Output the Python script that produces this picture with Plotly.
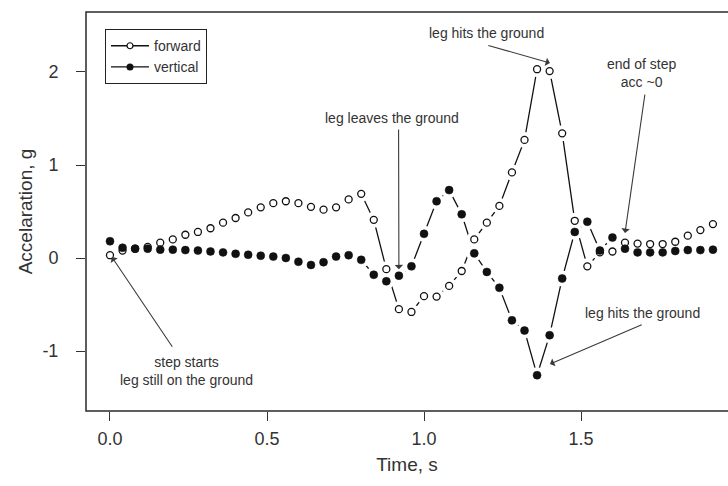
import plotly.graph_objects as go

# Time samples (s)
time_s = [0.00, 0.04, 0.08, 0.12, 0.16, 0.20, 0.24, 0.28, 0.32, 0.36,
          0.40, 0.44, 0.48, 0.52, 0.56, 0.60, 0.64, 0.68, 0.72, 0.76,
          0.80, 0.84, 0.88, 0.92, 0.96, 1.00, 1.04, 1.08, 1.12, 1.16,
          1.20, 1.24, 1.28, 1.32, 1.36, 1.40, 1.44, 1.48, 1.52, 1.56,
          1.60, 1.64, 1.68, 1.72, 1.76, 1.80, 1.84, 1.88, 1.92]

# Forward acceleration (g)
forward = [0.03, 0.08, 0.10, 0.12, 0.165, 0.20, 0.25, 0.28, 0.32, 0.38,
           0.43, 0.49, 0.545, 0.59, 0.61, 0.59, 0.55, 0.52, 0.545, 0.63,
           0.69, 0.41, -0.12, -0.55, -0.58, -0.41, -0.415, -0.30, -0.14, 0.20,
           0.38, 0.56, 0.92, 1.27, 2.03, 2.01, 1.34, 0.40, -0.09, 0.06,
           0.07, 0.165, 0.155, 0.15, 0.15, 0.175, 0.24, 0.30, 0.365]

# Vertical acceleration (g)
vertical = [0.18, 0.11, 0.10, 0.10, 0.09, 0.09, 0.085, 0.08, 0.07, 0.06,
            0.045, 0.035, 0.025, 0.015, 0.00, -0.04, -0.075, -0.045, 0.015, 0.03,
            -0.02, -0.18, -0.25, -0.19, -0.09, 0.26, 0.61, 0.73, 0.47, 0.05,
            -0.15, -0.32, -0.67, -0.78, -1.26, -0.83, -0.22, 0.28, 0.39, 0.08,
            0.22, 0.10, 0.06, 0.06, 0.06, 0.075, 0.085, 0.085, 0.09]

x_ticks = [0.0, 0.5, 1.0, 1.5]
x_tick_text = ["0.0", "0.5", "1.0", "1.5"]
y_ticks = [-1, 0, 1, 2]
y_tick_text = ["-1", "0", "1", "2"]

FONT = "Liberation Sans, Arial, Helvetica, sans-serif"
INK = "#111111"
TEXT = "#333333"

fig = go.Figure()

# connecting lines (drawn first, then broken around each point)
for series in (forward, vertical):
    fig.add_trace(go.Scatter(x=time_s, y=series, mode="lines",
                             line=dict(color=INK, width=1.3),
                             showlegend=False, hoverinfo="skip"))

# white gaps around each point, like "both" style point/line plots
for series in (forward, vertical):
    fig.add_trace(go.Scatter(x=time_s, y=series, mode="markers",
                             marker=dict(symbol="circle", size=16, color="white",
                                         line=dict(width=0)),
                             showlegend=False, hoverinfo="skip"))

# the points themselves
fig.add_trace(go.Scatter(x=time_s, y=forward, mode="markers", name="forward",
                         marker=dict(symbol="circle", size=7, color="white",
                                     line=dict(color=INK, width=1.3)),
                         showlegend=False))
fig.add_trace(go.Scatter(x=time_s, y=vertical, mode="markers", name="vertical",
                         marker=dict(symbol="circle", size=8, color=INK,
                                     line=dict(color=INK, width=0.5)),
                         showlegend=False))

# legend entries
fig.add_trace(go.Scatter(x=[None], y=[None], mode="lines+markers", name="forward",
                         line=dict(color=INK, width=1.3),
                         marker=dict(symbol="circle", size=6, color="white",
                                     line=dict(color=INK, width=1.2))))
fig.add_trace(go.Scatter(x=[None], y=[None], mode="lines+markers", name="vertical",
                         line=dict(color=INK, width=1.3),
                         marker=dict(symbol="circle", size=7, color=INK)))

# arrows: (head x, head y, tail x, tail y) in data units
arrows = [
    (1.401, 2.097, 1.200, 2.29),    # leg hits the ground (forward peak)
    (1.640, 0.269, 1.704, 1.774),   # end of step
    (0.920, -0.12, 0.919, 1.398),   # leg leaves the ground
    (0.006, 0.01, 0.2016, -0.971),  # step starts
    (1.401, -1.14, 1.698, -0.71),   # leg hits the ground (vertical dip)
]
for hx, hy, tx, ty in arrows:
    fig.add_annotation(x=hx, y=hy, ax=tx, ay=ty, xref="x", yref="y",
                       axref="x", ayref="y", text="", showarrow=True,
                       arrowhead=1, arrowsize=1.3, arrowwidth=1.1,
                       arrowcolor="#3a3a3a", standoff=0, startstandoff=0)

labels = [
    (1.199, 2.42, "leg hits the ground"),
    (1.693, 1.99, "end of step<br>acc ~0"),
    (0.898, 1.505, "leg leaves the ground"),
    (0.244, -1.22, "step starts<br>leg still on the ground"),
    (1.697, -0.591, "leg hits the ground"),
]
for lx, ly, txt in labels:
    fig.add_annotation(x=lx, y=ly, xref="x", yref="y", text=txt,
                       showarrow=False, xanchor="center", yanchor="middle",
                       font=dict(family=FONT, size=14, color=TEXT))

# frame of the plotting region (open on the right edge of the page)
fig.add_shape(type="rect", xref="paper", yref="paper", x0=0, x1=1.05, y0=0, y1=1,
              line=dict(color="#2a2a2a", width=1.5), fillcolor="rgba(0,0,0,0)",
              layer="above")

fig.update_layout(
    width=728, height=486,
    margin=dict(l=86, r=0, t=12, b=75),
    paper_bgcolor="white", plot_bgcolor="white",
    font=dict(family=FONT, color=TEXT),
    legend=dict(x=0.0296, y=0.957, xanchor="left", yanchor="top",
                bordercolor="#222222", borderwidth=1, bgcolor="white",
                font=dict(family=FONT, size=14, color=TEXT),
                itemwidth=38, tracegroupgap=0),
    xaxis=dict(range=[-0.0764, 1.968], tickvals=x_ticks, ticktext=x_tick_text,
               ticks="outside", ticklen=9, tickwidth=1, tickcolor="#333333",
               showgrid=False, zeroline=False, showline=False,
               ticklabelstandoff=2,
               tickfont=dict(family=FONT, size=18, color=TEXT),
               title=dict(text="Time, s", standoff=10,
                          font=dict(family=FONT, size=19, color=TEXT))),
    yaxis=dict(range=[-1.645, 2.645], tickvals=y_ticks, ticktext=y_tick_text,
               ticks="outside", ticklen=9, tickwidth=1, tickcolor="#333333",
               showgrid=False, zeroline=False, showline=False,
               ticklabelstandoff=14,
               tickfont=dict(family=FONT, size=18, color=TEXT),
               title=dict(text="Accelaration, g", standoff=4,
                          font=dict(family=FONT, size=19, color=TEXT))),
)

fig.write_html("out.html")
